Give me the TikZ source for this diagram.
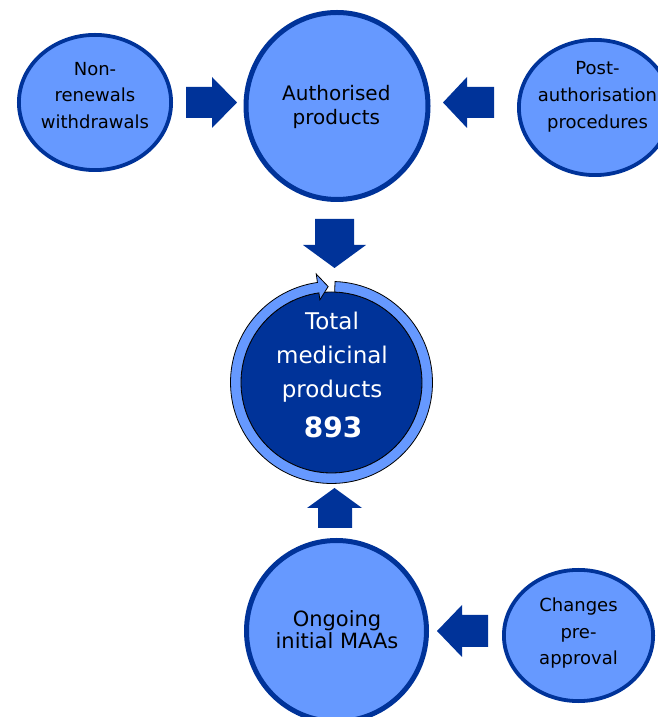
\documentclass[tikz,border=0pt]{standalone}
\usepackage{fontspec}
\setmainfont{DejaVu Sans}
\usetikzlibrary{shapes.geometric}
\definecolor{lightb}{RGB}{102,153,255}
\definecolor{darkb}{RGB}{0,51,153}
\begin{document}
\begin{tikzpicture}[x=1pt,y=1pt,
  bub/.style={ellipse, draw=darkb, fill=lightb, inner sep=0pt},
  lbl/.style={align=center, inner sep=0pt, text=black},
  barrow/.style={fill=darkb}]
\useasboundingbox (0,0) rectangle (657,717);
% bubbles
\node[bub, line width=3.8pt, minimum width=152.2pt, minimum height=135.2pt] (nr) at (95,614.5) {};
\node[bub, line width=3.8pt, minimum width=152.2pt, minimum height=135.2pt] (pa) at (595,609.5) {};
\node[bub, line width=5pt, minimum width=182pt, minimum height=187pt] (au) at (337,611) {};
\node[bub, line width=5pt, minimum width=180pt, minimum height=181pt] (og) at (336.5,86) {};
\node[bub, line width=3.8pt, minimum width=149.2pt, minimum height=131.2pt] (cp) at (578.5,81.5) {};
% central circle
\node[circle, fill=darkb, draw=black, line width=0.8pt, minimum size=181pt, inner sep=0pt] (tot) at (331.5,334.5) {};
\filldraw[fill=lightb, draw=black, line width=0.8pt, shift={(tot.center)}]
  (88:101) arc[start angle=88, end angle=-262, radius=101]
  -- (-262:109.5) -- (-268:96) -- (-262:83.5) -- (-262:90.5)
  arc[start angle=-262, end angle=88, radius=90.5] -- cycle;
% block arrows
\fill[barrow] (186,630) -- (212,630) -- (212,640) -- (237,614.5) -- (212,589) -- (212,599) -- (186,599) -- cycle;
\fill[barrow] (494,630) -- (467,630) -- (467,640) -- (443,614.5) -- (467,589) -- (467,599) -- (494,599) -- cycle;
\fill[barrow] (315,498) -- (354,498) -- (354,472) -- (366,472) -- (334.5,449) -- (303,472) -- (315,472) -- cycle;
\fill[barrow] (318,189) -- (352,189) -- (352,209) -- (362,209) -- (334.5,229) -- (307,209) -- (318,209) -- cycle;
\fill[barrow] (488,102) -- (462,102) -- (462,112) -- (437,86) -- (462,60) -- (462,70) -- (488,70) -- cycle;
% labels
\node[lbl, font=\fontsize{18}{26.5}\selectfont] (nrt) at (95,621.5) {Non-\\renewals\\withdrawals};
\node[lbl, font=\fontsize{18}{27}\selectfont] (pat) at (597.5,619.7) {Post-\\authorisation\\procedures};
\node[lbl, font=\fontsize{20}{24}\selectfont] (aut) at (336.3,610.5) {Authorised\\products};
\node[lbl, font=\fontsize{21}{21.5}\selectfont] (ogt) at (337,87.5) {Ongoing\\initial MAAs};
\node[lbl, font=\fontsize{18}{26.5}\selectfont] (cpt) at (578.5,83.5) {Changes\\pre-\\approval};
\node[lbl, text=white, font=\fontsize{23}{34}\selectfont] (tott) at (332,359.4) {Total\\medicinal\\products};
\node[inner sep=0pt, anchor=base, text=white, font=\fontsize{28}{34}\selectfont\bfseries] (num) at (333,279) {893};
\end{tikzpicture}
\end{document}
